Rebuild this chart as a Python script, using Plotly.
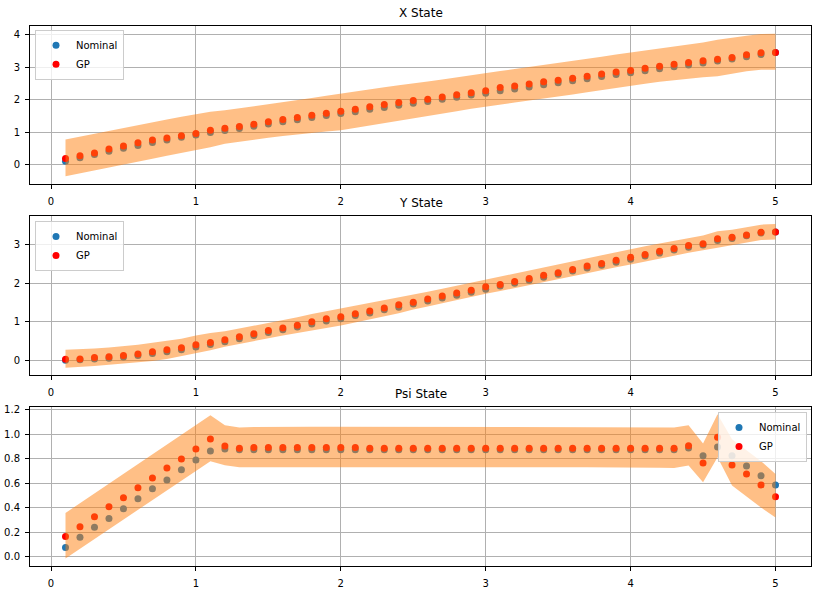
import plotly.graph_objects as go

t = [0.1, 0.2, 0.3, 0.4, 0.5, 0.6, 0.7, 0.8, 0.9, 1.0,
     1.1, 1.2, 1.3, 1.4, 1.5, 1.6, 1.7, 1.8, 1.9, 2.0,
     2.1, 2.2, 2.3, 2.4, 2.5, 2.6, 2.7, 2.8, 2.9, 3.0,
     3.1, 3.2, 3.3, 3.4, 3.5, 3.6, 3.7, 3.8, 3.9, 4.0,
     4.1, 4.2, 4.3, 4.4, 4.5, 4.6, 4.7, 4.8, 4.9, 5.0]

# ---- X State ----
x_nominal = [0.10, 0.21, 0.31, 0.41, 0.50, 0.59, 0.68, 0.76, 0.84, 0.91,
             0.99, 1.05, 1.11, 1.18, 1.25, 1.32, 1.38, 1.45, 1.51, 1.57,
             1.63, 1.70, 1.76, 1.83, 1.89, 1.94, 2.01, 2.07, 2.14, 2.20,
             2.27, 2.33, 2.39, 2.46, 2.52, 2.58, 2.64, 2.71, 2.77, 2.83,
             2.89, 2.95, 3.01, 3.07, 3.13, 3.19, 3.25, 3.32, 3.39, 3.45]
x_gp = [0.19, 0.27, 0.36, 0.48, 0.57, 0.67, 0.76, 0.82, 0.89, 0.96,
        1.06, 1.12, 1.17, 1.24, 1.32, 1.39, 1.45, 1.52, 1.58, 1.64,
        1.70, 1.78, 1.85, 1.91, 1.97, 2.01, 2.08, 2.15, 2.21, 2.27,
        2.37, 2.42, 2.48, 2.55, 2.60, 2.66, 2.72, 2.79, 2.85, 2.90,
        2.97, 3.03, 3.09, 3.14, 3.20, 3.24, 3.30, 3.38, 3.44, 3.45]
x_upper = [0.77, 0.86, 0.95, 1.05, 1.14, 1.23, 1.31, 1.39, 1.47, 1.56,
           1.63, 1.67, 1.73, 1.79, 1.85, 1.92, 1.99, 2.05, 2.12, 2.19,
           2.25, 2.31, 2.38, 2.44, 2.49, 2.56, 2.62, 2.69, 2.76, 2.82,
           2.88, 2.94, 3.00, 3.06, 3.12, 3.19, 3.25, 3.32, 3.39, 3.45,
           3.51, 3.57, 3.63, 3.70, 3.76, 3.84, 3.91, 3.97, 4.02, 4.03]
x_lower = [-0.36, -0.27, -0.18, -0.09, 0.00, 0.09, 0.18, 0.27, 0.36, 0.45,
           0.53, 0.64, 0.71, 0.77, 0.83, 0.88, 0.93, 0.98, 1.02, 1.06,
           1.13, 1.20, 1.28, 1.36, 1.43, 1.50, 1.57, 1.64, 1.72, 1.79,
           1.85, 1.91, 1.97, 2.03, 2.09, 2.16, 2.23, 2.30, 2.37, 2.43,
           2.49, 2.55, 2.60, 2.65, 2.69, 2.72, 2.80, 2.87, 2.92, 2.92]

# ---- Y State ----
y_nominal = [0.00, 0.01, 0.03, 0.05, 0.08, 0.12, 0.17, 0.22, 0.27, 0.34,
             0.41, 0.48, 0.56, 0.64, 0.72, 0.79, 0.86, 0.94, 1.02, 1.08,
             1.16, 1.23, 1.31, 1.38, 1.46, 1.54, 1.62, 1.69, 1.77, 1.85,
             1.93, 2.00, 2.08, 2.16, 2.24, 2.32, 2.40, 2.47, 2.55, 2.63,
             2.71, 2.79, 2.87, 2.94, 3.00, 3.12, 3.17, 3.24, 3.31, 3.34]
y_gp = [0.02, 0.03, 0.07, 0.09, 0.12, 0.16, 0.22, 0.27, 0.32, 0.40,
        0.46, 0.53, 0.61, 0.69, 0.77, 0.84, 0.91, 1.00, 1.08, 1.13,
        1.21, 1.28, 1.36, 1.44, 1.51, 1.59, 1.67, 1.75, 1.82, 1.91,
        1.97, 2.05, 2.13, 2.21, 2.28, 2.36, 2.45, 2.52, 2.60, 2.68,
        2.75, 2.84, 2.91, 2.99, 3.03, 3.16, 3.20, 3.26, 3.33, 3.34]
y_upper = [0.27, 0.28, 0.30, 0.33, 0.36, 0.40, 0.45, 0.50, 0.56, 0.64,
           0.71, 0.75, 0.82, 0.89, 0.97, 1.05, 1.12, 1.20, 1.27, 1.34,
           1.41, 1.48, 1.56, 1.63, 1.70, 1.78, 1.86, 1.94, 2.02, 2.10,
           2.18, 2.26, 2.34, 2.42, 2.50, 2.58, 2.66, 2.74, 2.82, 2.90,
           2.97, 3.04, 3.11, 3.18, 3.25, 3.36, 3.40, 3.46, 3.53, 3.55]
y_lower = [-0.20, -0.18, -0.15, -0.12, -0.09, -0.06, -0.02, 0.03, 0.10, 0.18,
           0.26, 0.35, 0.43, 0.50, 0.57, 0.64, 0.71, 0.78, 0.84, 0.90,
           0.98, 1.06, 1.14, 1.22, 1.32, 1.40, 1.48, 1.56, 1.64, 1.73,
           1.80, 1.88, 1.96, 2.04, 2.12, 2.20, 2.27, 2.34, 2.42, 2.49,
           2.56, 2.64, 2.72, 2.80, 2.86, 2.93, 3.00, 3.07, 3.13, 3.14]

# ---- Psi State ----
psi_nominal = [0.073, 0.157, 0.239, 0.310, 0.391, 0.472, 0.554, 0.627, 0.709, 0.790,
               0.863, 0.880, 0.874, 0.874, 0.874, 0.874, 0.874, 0.874, 0.874, 0.874,
               0.874, 0.874, 0.874, 0.874, 0.874, 0.874, 0.874, 0.874, 0.874, 0.874,
               0.874, 0.874, 0.874, 0.874, 0.874, 0.874, 0.874, 0.874, 0.874, 0.874,
               0.874, 0.874, 0.874, 0.888, 0.825, 0.896, 0.825, 0.741, 0.660, 0.586]
psi_gp = [0.163, 0.244, 0.326, 0.407, 0.480, 0.562, 0.643, 0.725, 0.798, 0.880,
          0.961, 0.904, 0.885, 0.893, 0.893, 0.893, 0.893, 0.893, 0.893, 0.893,
          0.893, 0.886, 0.886, 0.886, 0.886, 0.886, 0.886, 0.886, 0.886, 0.886,
          0.886, 0.886, 0.886, 0.886, 0.886, 0.886, 0.886, 0.886, 0.886, 0.886,
          0.886, 0.886, 0.886, 0.907, 0.766, 0.975, 0.749, 0.676, 0.586, 0.489]
psi_upper = [0.356, 0.436, 0.516, 0.596, 0.676, 0.756, 0.836, 0.916, 0.996, 1.076,
             1.157, 1.075, 1.056, 1.060, 1.062, 1.062, 1.062, 1.062, 1.062, 1.062,
             1.062, 1.062, 1.062, 1.062, 1.062, 1.062, 1.062, 1.062, 1.062, 1.062,
             1.062, 1.062, 1.062, 1.062, 1.062, 1.062, 1.062, 1.062, 1.062, 1.062,
             1.060, 1.058, 1.056, 1.075, 0.925, 1.165, 0.960, 0.870, 0.780, 0.676]
psi_lower = [-0.016, 0.063, 0.143, 0.222, 0.302, 0.381, 0.461, 0.540, 0.620, 0.700,
             0.779, 0.747, 0.730, 0.730, 0.730, 0.730, 0.730, 0.730, 0.730, 0.730,
             0.730, 0.730, 0.730, 0.730, 0.730, 0.730, 0.730, 0.730, 0.730, 0.730,
             0.730, 0.730, 0.730, 0.730, 0.730, 0.730, 0.730, 0.730, 0.730, 0.730,
             0.728, 0.726, 0.725, 0.745, 0.608, 0.812, 0.580, 0.490, 0.400, 0.320]

titles = ["X State", "Y State", "Psi State"]
x_ticks = [0, 1, 2, 3, 4, 5]
panels = [
    dict(nom=x_nominal, gp=x_gp, up=x_upper, lo=x_lower, yr=[-0.60, 4.28],
         ticks=[0, 1, 2, 3, 4], fmt="d"),
    dict(nom=y_nominal, gp=y_gp, up=y_upper, lo=y_lower, yr=[-0.39, 3.75],
         ticks=[0, 1, 2, 3], fmt="d"),
    dict(nom=psi_nominal, gp=psi_gp, up=psi_upper, lo=psi_lower, yr=[-0.079, 1.224],
         ticks=[0.0, 0.2, 0.4, 0.6, 0.8, 1.0, 1.2], fmt=".1f"),
]

W, H = 818, 590
x_dom = [30 / W, 811 / W]
y_px = [(22.7, 182), (214.3, 374), (406, 566)]
y_doms = [[1 - b / H, 1 - t_ / H] for (t_, b) in y_px]

BLUE = "#1f77b4"
FILL = "rgba(255,127,14,0.5)"
FONT = "DejaVu Sans"

fig = go.Figure()
legend_names = ["legend", "legend2", "legend3"]
for i, p in enumerate(panels):
    xa = "x" if i == 0 else f"x{i+1}"
    ya = "y" if i == 0 else f"y{i+1}"
    lg = legend_names[i]
    fig.add_trace(go.Scatter(x=t, y=p["nom"], mode="markers", name="Nominal",
                             marker=dict(color=BLUE, size=7, line=dict(width=0)),
                             xaxis=xa, yaxis=ya, legend=lg))
    fig.add_trace(go.Scatter(x=t, y=p["gp"], mode="markers", name="GP",
                             marker=dict(color="red", size=7, line=dict(width=0)),
                             xaxis=xa, yaxis=ya, legend=lg))
    fig.add_trace(go.Scatter(x=t + t[::-1], y=p["up"] + p["lo"][::-1],
                             mode="lines", fill="toself", fillcolor=FILL,
                             line=dict(width=0, color="rgba(0,0,0,0)"),
                             hoverinfo="skip", showlegend=False,
                             xaxis=xa, yaxis=ya))

axis_common = dict(showline=True, mirror=True, linecolor="black", linewidth=1,
                   ticks="outside", ticklen=4, tickwidth=1, tickcolor="black",
                   showgrid=True, gridcolor="#b0b0b0", gridwidth=0.8,
                   zeroline=False, tickfont=dict(family=FONT, size=10, color="black"))

layout = dict(width=W, height=H, margin=dict(l=0, r=0, t=0, b=0),
              paper_bgcolor="white", plot_bgcolor="white",
              font=dict(family=FONT, size=10, color="black"),
              annotations=[])
for i, p in enumerate(panels):
    xk = "xaxis" if i == 0 else f"xaxis{i+1}"
    yk = "yaxis" if i == 0 else f"yaxis{i+1}"
    ya = "y" if i == 0 else f"y{i+1}"
    xa = "x" if i == 0 else f"x{i+1}"
    layout[xk] = dict(axis_common, domain=x_dom, range=[-0.145, 5.245],
                      tickvals=x_ticks, anchor=ya, ticklabelstandoff=4)
    layout[yk] = dict(axis_common, domain=y_doms[i], range=p["yr"],
                      tickvals=p["ticks"], tickformat=p["fmt"], anchor=xa,
                      ticklabelstandoff=3)
    layout["annotations"].append(dict(
        text=titles[i], xref="paper", yref="paper",
        x=(x_dom[0] + x_dom[1]) / 2, y=y_doms[i][1], xanchor="center",
        yanchor="bottom", yshift=4, showarrow=False,
        font=dict(family=FONT, size=12, color="black")))

leg_common = dict(bgcolor="rgba(255,255,255,0.8)", bordercolor="#cccccc",
                  borderwidth=1, font=dict(family=FONT, size=10, color="black"),
                  yanchor="top", tracegroupgap=0, itemwidth=30)
layout["legend"] = dict(leg_common, x=35 / W, y=1 - 27 / H, xanchor="left")
layout["legend2"] = dict(leg_common, x=35 / W, y=1 - 219 / H, xanchor="left")
layout["legend3"] = dict(leg_common, x=807 / W, y=1 - 411 / H, xanchor="right")

fig.update_layout(**layout)
fig.write_html("out.html")
